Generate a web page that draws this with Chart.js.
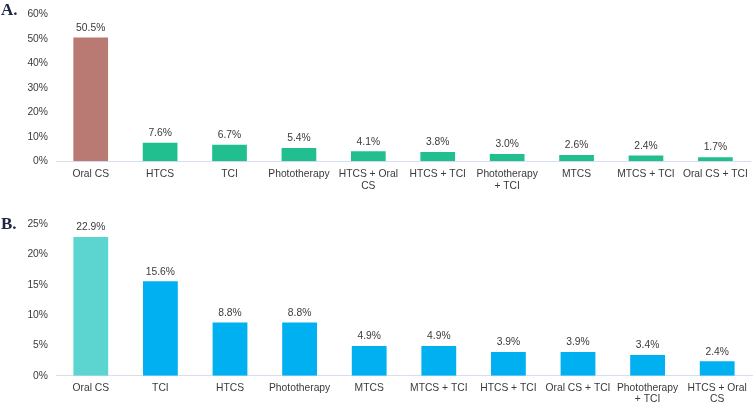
<!DOCTYPE html>
<html>
<head>
<meta charset="utf-8">
<script src="https://cdn.jsdelivr.net/npm/chart.js@4/dist/chart.umd.min.js"></script>
<style>
  html, body { margin: 0; padding: 0; background: #fff; }
  body { width: 755px; height: 405px; position: relative; overflow: hidden; }
  .panel { position: absolute; left: 0; }
  .letra {
    position: absolute; left: 1px;
    font: bold 17px "Liberation Serif", "DejaVu Serif", serif;
    color: #1c2541;
  }
</style>
</head>
<body>
<div class="panel" style="top:0"><canvas id="graficoA" width="755" height="200"></canvas></div>
<div class="panel" style="top:200px"><canvas id="graficoB" width="755" height="205"></canvas></div>
<div class="letra" style="top:0px">A.</div>
<div class="letra" style="top:214px">B.</div>
<script>
// Panel A
const categoriasA = ['Oral CS', 'HTCS', 'TCI', 'Phototherapy', ['HTCS + Oral', 'CS'], 'HTCS + TCI',
  ['Phototherapy', '+ TCI'], 'MTCS', 'MTCS + TCI', 'Oral CS + TCI'];
const valoresA = [50.5, 7.6, 6.7, 5.4, 4.1, 3.8, 3.0, 2.6, 2.4, 1.7];

// Panel B
const categoriasB = ['Oral CS', 'TCI', 'HTCS', 'Phototherapy', 'MTCS', 'MTCS + TCI', 'HTCS + TCI',
  'Oral CS + TCI', ['Phototherapy', '+ TCI'], ['HTCS + Oral', 'CS']];
const valoresB = [22.9, 15.6, 8.8, 8.8, 4.9, 4.9, 3.9, 3.9, 3.4, 2.4];

const FUENTE = '"Liberation Sans", Arial, sans-serif';
const TEXTO = '#3a3a3a';
const TAM = 10.3;

const pluginEtiquetas = {
  id: 'pluginEtiquetas',
  afterDatasetsDraw(chart) {
    const { ctx } = chart;
    const meta = chart.getDatasetMeta(0);
    const datos = chart.data.datasets[0].data;
    ctx.save();
    ctx.font = TAM + 'px ' + FUENTE;
    ctx.fillStyle = TEXTO;
    ctx.textAlign = 'center';
    ctx.textBaseline = 'middle';
    meta.data.forEach((bar, i) => {
      ctx.fillText(datos[i].toFixed(1) + '%', bar.x, bar.y - 9.5);
    });
    ctx.restore();
  },
};

function crearGrafico(id, categorias, valores, colorPrimero, colorResto, maximo, paso, alturaEjeX, arriba, sepEtiqueta) {
  return new Chart(document.getElementById(id), {
    type: 'bar',
    data: {
      labels: categorias,
      datasets: [{
        data: valores,
        backgroundColor: valores.map((v, i) => (i === 0 ? colorPrimero : colorResto)),
        borderWidth: 0,
        barPercentage: 0.5,
        categoryPercentage: 1,
      }],
    },
    options: {
      responsive: false,
      animation: false,
      layout: { padding: { top: arriba, right: 3, bottom: 0, left: 0 } },
      scales: {
        x: {
          grid: { display: false, drawTicks: false },
          border: { display: true, color: '#d8def0', width: 1 },
          ticks: {
            autoSkip: false, maxRotation: 0, minRotation: 0,
            padding: sepEtiqueta, color: TEXTO,
            font: { family: FUENTE, size: TAM, lineHeight: 1.13 },
          },
          afterFit(scale) { scale.height = alturaEjeX; },
        },
        y: {
          min: 0, max: maximo,
          grid: { display: false, drawTicks: false },
          border: { display: false },
          ticks: {
            stepSize: paso, padding: 8, color: TEXTO,
            font: { family: FUENTE, size: TAM },
            callback: (v) => v + '%',
          },
          afterFit(scale) { scale.width = 56; },
        },
      },
      plugins: { legend: { display: false }, tooltip: { enabled: false } },
    },
    plugins: [pluginEtiquetas],
  });
}

crearGrafico('graficoA', categoriasA, valoresA, '#b87a72', '#21bf8f', 60, 10, 38.7, 10, 7);
crearGrafico('graficoB', categoriasB, valoresB, '#5cd4d0', '#00b0f0', 25, 5, 29.3, 24.3, 6.5);
</script>
</body>
</html>
